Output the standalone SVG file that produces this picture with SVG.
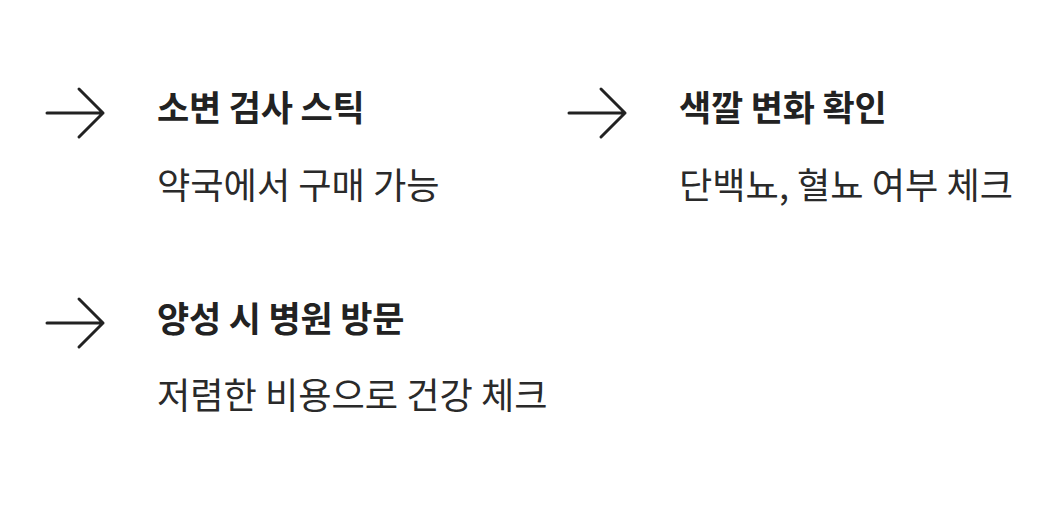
<svg xmlns="http://www.w3.org/2000/svg" width="1060" height="516" viewBox="0 0 1060 516">
<style>
.title{font-family:"Noto Sans CJK KR","Noto Sans",sans-serif;font-weight:700;font-size:35px;letter-spacing:-0.2px;fill:#222}
.sub{font-family:"Noto Sans CJK KR","Noto Sans",sans-serif;font-weight:400;font-size:36.2px;fill:#2a2a2a}
.arrow{fill:none;stroke:#222;stroke-width:3;stroke-linecap:round;stroke-linejoin:round}
</style>
<defs>
<g id="arr"><path class="arrow" d="M0 0 H56 M32 -24 L56 0 L32 24"/></g>
</defs>
<rect width="1060" height="516" fill="#fff"/>
<g id="connectors">
<use href="#arr" x="47" y="113"/>
<use href="#arr" x="569" y="113"/>
<use href="#arr" x="47" y="323"/>
</g>
<g id="item1">
<text class="title" x="157" y="121">소변 검사 스틱</text>
<text class="sub" x="157" y="199">약국에서 구매 가능</text>
</g>
<g id="item2">
<text class="title" x="679" y="121">색깔 변화 확인</text>
<text class="sub" x="679" y="199">단백뇨, 혈뇨 여부 체크</text>
</g>
<g id="item3">
<text class="title" x="157" y="332">양성 시 병원 방문</text>
<text class="sub" x="157" y="409">저렴한 비용으로 건강 체크</text>
</g>
</svg>
